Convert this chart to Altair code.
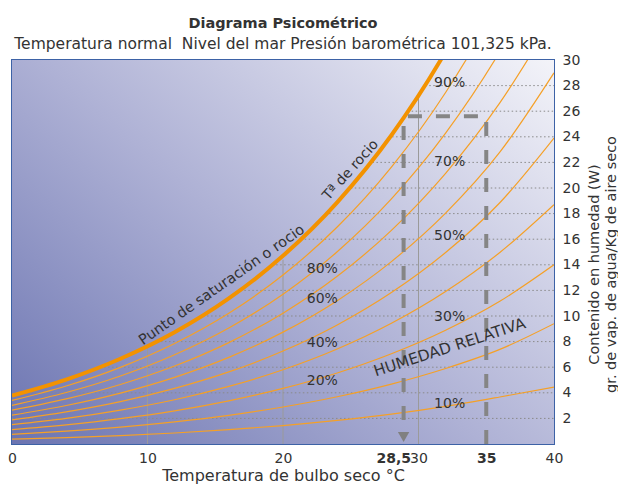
import altair as alt
import pandas as pd

# ---------------- data ----------------
temps = [0, 4, 8, 12, 16, 20, 24, 28, 32, 36, 40]
w_sat = [3.78, 5.03, 6.66, 8.73, 11.37, 14.70, 18.88, 24.12, 30.66, 38.79, 48.9]
w_90 = [3.40, 4.53, 5.99, 7.85, 10.21, 13.20, 16.95, 21.63, 27.46, 34.69, 43.6]
w_80 = [3.02, 4.02, 5.31, 6.97, 9.06, 11.70, 15.02, 19.15, 24.29, 30.65, 38.5]
w_70 = [2.64, 3.52, 4.65, 6.09, 7.92, 10.22, 13.10, 16.69, 21.15, 26.65, 33.4]
w_60 = [2.26, 3.01, 3.98, 5.21, 6.77, 8.74, 11.20, 14.25, 18.04, 22.80, 29.0]
w_50 = [1.88, 2.51, 3.31, 4.34, 5.63, 7.26, 9.30, 11.83, 14.96, 18.85, 23.9]
w_40 = [1.51, 2.00, 2.65, 3.46, 4.50, 5.80, 7.42, 9.43, 11.91, 14.96, 18.7]
w_30 = [1.13, 1.50, 1.98, 2.59, 3.37, 4.34, 5.55, 7.05, 8.89, 11.15, 14.0]
w_20 = [0.75, 1.00, 1.32, 1.73, 2.24, 2.89, 3.69, 4.68, 5.90, 7.39, 9.4]
w_10 = [0.38, 0.50, 0.66, 0.86, 1.12, 1.44, 1.84, 2.33, 2.94, 3.67, 4.45]
rh_names = ["90%", "80%", "70%", "60%", "50%", "40%", "30%", "20%", "10%"]
rh_curves = [w_90, w_80, w_70, w_60, w_50, w_40, w_30, w_20, w_10]

# dotted humidity gridlines: start on the saturation curve
grid_w = [2, 4, 6, 8, 10, 12, 14, 16, 18, 20, 22, 24, 26, 28]
grid_start = [0, 0.8, 6.5, 10.7, 14.1, 16.85, 19.2, 21.6, 23.4, 25.0, 26.6, 28.05, 29.2, 30.5]

# grey temperature lines up to the saturation curve
vline_t = [10, 20, 30]
vline_top = [7.5, 14.4, 27.3]

# dashed example path (35 °C -> dew point 28,5 °C)
path_t = [35, 35, 28.9, 28.9]
path_w = [0, 25.6, 25.6, 0.9]
arrow_t = [28.9]
arrow_w = [0.55]

# curve labels
pct_text = ["90%", "70%", "50%", "30%", "10%", "80%", "60%", "40%", "20%"]
pct_t = [32.3, 32.3, 32.3, 32.3, 32.3, 22.9, 22.9, 22.9, 22.9]
pct_w = [28.2, 22.0, 16.25, 9.95, 3.1, 13.7, 11.3, 7.9, 4.9]

sat_label = ["Punto de saturación o rocio"]
sat_label_t = [15.5]
sat_label_w = [12.4]
dew_label = ["Tª de rocio"]
dew_label_t = [25.0]
dew_label_w = [21.4]
rh_label = ["HUMEDAD RELATIVA"]
rh_label_t = [32.3]
rh_label_w = [7.55]

x_ticks = [0, 10, 20, 28.5, 30, 35, 40]
y_ticks = [2, 4, 6, 8, 10, 12, 14, 16, 18, 20, 22, 24, 26, 28, 30]

# ---------------- tables ----------------
sat_df = pd.DataFrame({"T": temps, "W": w_sat})
rows = []
for name, ws in zip(rh_names, rh_curves):
    for t, w in zip(temps, ws):
        rows.append({"rh": name, "T": t, "W": w})
rh_df = pd.DataFrame(rows)
grid_df = pd.DataFrame({"W": grid_w, "T0": grid_start, "T1": [40] * len(grid_w)})
vline_df = pd.DataFrame({"T": vline_t, "W0": [0] * len(vline_t), "W1": vline_top})
path_df = pd.DataFrame({"T": path_t, "W": path_w, "i": list(range(len(path_t)))})
arrow_df = pd.DataFrame({"T": arrow_t, "W": arrow_w})
pct_df = pd.DataFrame({"label": pct_text, "T": pct_t, "W": pct_w})
sat_lab_df = pd.DataFrame({"label": sat_label, "T": sat_label_t, "W": sat_label_w})
dew_lab_df = pd.DataFrame({"label": dew_label, "T": dew_label_t, "W": dew_label_w})
rh_lab_df = pd.DataFrame({"label": rh_label, "T": rh_label_t, "W": rh_label_w})
bg_df = pd.DataFrame({"T": [0], "T1": [40], "W": [0], "W1": [30]})

FONT = "DejaVu Sans"
TXT = "#333333"
ORANGE = "#f39200"
XS = alt.Scale(domain=[0, 40], nice=False, zero=False)
YS = alt.Scale(domain=[0, 30], nice=False, zero=False)

XAX = alt.Axis(
    values=x_ticks, format=".1~f",
    labelExpr="replace(datum.label, '.', ',')",
    labelFontWeight=alt.condition("datum.value == 28.5 || datum.value == 35", alt.value("bold"), alt.value("normal")),
    labelOffset=alt.condition("datum.value == 28.5", alt.value(-5), alt.value(0)),
    labelOverlap=False, labelFlush=False, ticks=False, domain=False, grid=False,
    labelPadding=7, labelFontSize=14, labelFont=FONT, labelColor=TXT,
    title="Temperatura de bulbo seco °C", titleFont=FONT, titleFontSize=16,
    titleFontWeight="normal", titleColor=TXT, titlePadding=2)
YAX = alt.Axis(
    orient="right", values=y_ticks, ticks=False, domain=False, grid=False,
    labelPadding=8, labelFontSize=14, labelFont=FONT, labelColor=TXT,
    title=["Contenido en humedad (W)", "gr. de vap. de agua/Kg de aire seco"],
    titleFont=FONT, titleFontSize=14.5, titleFontWeight="normal", titleColor=TXT,
    titleAngle=270, titleAlign="center", titleBaseline="middle", titleLineHeight=17,
    titleX=40, titleY=204)


def X(f):
    return alt.X(f, scale=XS, axis=XAX)


def Y(f):
    return alt.Y(f, scale=YS, axis=YAX)


grad = alt.Gradient(
    gradient="linear",
    stops=[
        alt.GradientStop(color="#6b74b1", offset=0),
        alt.GradientStop(color="#aeb1d5", offset=0.45),
        alt.GradientStop(color="#fbfbfd", offset=1),
    ],
    x1=0, y1=1, x2=1.15, y2=0.05,
)

bg = alt.Chart(bg_df).mark_rect(color=grad).encode(
    x=X("T:Q"), x2="T1:Q", y=Y("W:Q"), y2="W1:Q",
)

grid = alt.Chart(grid_df).mark_rule(color="#8a8a8a", strokeWidth=1, strokeDash=[1.5, 2.5]).encode(
    x=X("T0:Q"), x2="T1:Q", y=Y("W:Q"),
)

vlines = alt.Chart(vline_df).mark_rule(color="#9a9a9a", strokeWidth=1).encode(
    x=X("T:Q"), y=Y("W0:Q"), y2="W1:Q",
)

thin = alt.Chart(rh_df).mark_line(color="#f5a027", strokeWidth=1.2, interpolate="monotone", clip=True).encode(
    x=X("T:Q"), y=Y("W:Q"), detail="rh:N",
)

thick = alt.Chart(sat_df).mark_line(color=ORANGE, strokeWidth=4, interpolate="monotone", clip=True).encode(
    x=X("T:Q"), y=Y("W:Q"),
)

path = alt.Chart(path_df).mark_line(color="#858585", strokeWidth=4, strokeDash=[14, 14]).encode(
    x=X("T:Q"), y=Y("W:Q"), order="i:Q",
)

arrow = alt.Chart(arrow_df).mark_point(shape="triangle-down", filled=True, color="#808080", size=130, opacity=1).encode(
    x=X("T:Q"), y=Y("W:Q"),
)

pct = alt.Chart(pct_df).mark_text(font=FONT, fontSize=14, color=TXT, align="center", baseline="middle").encode(
    x=X("T:Q"), y=Y("W:Q"), text="label:N",
)

sat_lab = alt.Chart(sat_lab_df).mark_text(font=FONT, fontSize=14.5, color=TXT, align="center",
                                          baseline="middle", angle=325).encode(
    x=X("T:Q"), y=Y("W:Q"), text="label:N",
)
dew_lab = alt.Chart(dew_lab_df).mark_text(font=FONT, fontSize=14, color=TXT, align="center",
                                          baseline="middle", angle=312).encode(
    x=X("T:Q"), y=Y("W:Q"), text="label:N",
)
rh_lab = alt.Chart(rh_lab_df).mark_text(font=FONT, fontSize=15.5, color=TXT, align="center",
                                        baseline="middle", angle=342).encode(
    x=X("T:Q"), y=Y("W:Q"), text="label:N",
)

chart = alt.layer(bg, grid, vlines, thin, thick, path, arrow, pct, sat_lab, dew_lab, rh_lab).properties(
    width=542, height=384,
    autosize="none",
    padding={"left": 4, "top": 52, "right": 64, "bottom": 41},
    title=alt.TitleParams(
        text="Diagrama Psicométrico",
        subtitle="Temperatura normal\u00a0\u00a0Nivel del mar Presión barométrica 101,325 kPa.",
        anchor="middle", font=FONT, fontSize=14.5, fontWeight="bold", color=TXT,
        subtitleFont=FONT, subtitleFontSize=15.5, subtitleColor=TXT,
        subtitlePadding=5, offset=0,
    ),
).configure_view(stroke="#3d62a6", strokeWidth=2)

chart.save("out.html", embed_options={"renderer": "svg", "actions": False})
